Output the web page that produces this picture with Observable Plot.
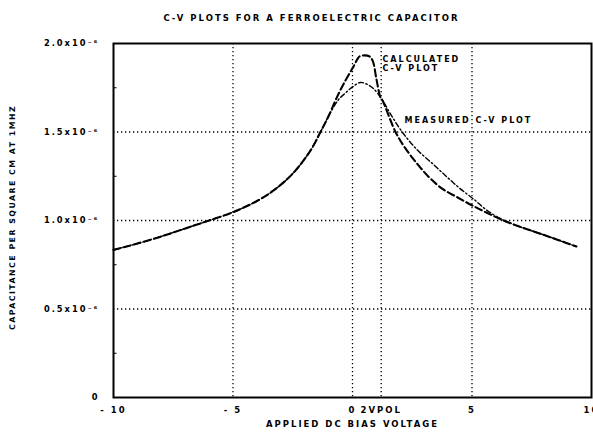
<!DOCTYPE html>
<html>
<head>
<meta charset="utf-8">
<script src="https://cdn.jsdelivr.net/npm/d3@7"></script>
<script src="https://cdn.jsdelivr.net/npm/@observablehq/plot@0.6"></script>
<style>
  html, body { margin: 0; padding: 0; background: #fff; }
  #chart svg { display: block; background: #fff; }
  #chart svg text { font-family: "DejaVu Sans", sans-serif; font-weight: bold; fill: #000; }
</style>
</head>
<body>
<div id="chart"></div>
<script>
// ---- data (capacitance in units of 1e-6 F/cm^2) ----
const calcV = [-10,-9,-8,-7,-6,-5,-4,-3.3,-2.5,-1.76,-1.34,-1,-0.64,-0.3,0,0.2,0.3,0.7,0.85,1.0,1.17,1.25,1.8,2.2,2.71,3.2,3.75,4.4,5.01,5.6,6.32,7.0,7.87,8.6,9.37];
const calcC = [0.834,0.87,0.91,0.955,1.0,1.047,1.11,1.17,1.265,1.395,1.50,1.59,1.70,1.79,1.86,1.91,1.928,1.928,1.90,1.80,1.695,1.68,1.50,1.41,1.32,1.245,1.18,1.13,1.085,1.045,1.0,0.965,0.925,0.89,0.853];

const measV = [-10,-9,-8,-7,-6,-5,-4,-3.3,-2.5,-1.76,-1.34,-1,-0.6,-0.3,0,0.33,0.6,0.88,1.25,1.6,2.08,2.7,3.4,3.96,4.5,5.08,5.6,6.2,7.0,7.87,8.6,9.37];
const measC = [0.834,0.87,0.91,0.955,1.0,1.047,1.11,1.17,1.265,1.395,1.50,1.59,1.68,1.72,1.755,1.78,1.77,1.745,1.68,1.60,1.50,1.40,1.315,1.245,1.18,1.12,1.06,1.01,0.965,0.925,0.89,0.853];

const xTicks = [-10,-5,0,1.2,5,10];
const xTickLabels = ["- 10","- 5","0","2VPOL","5","10"];
const yTicks = [0,0.5,1,1.5,2];
const yTickLabels = ["0","0.5x10⁻⁶","1.0x10⁻⁶","1.5x10⁻⁶","2.0x10⁻⁶"];
const xGrid = [-5,0,1.2,5];
const yGrid = [0.5,1,1.5];
const yMinor = [0.25,0.75,1.25,1.75];

const titleText = "C-V PLOTS FOR A FERROELECTRIC CAPACITOR";
const xLabel = "APPLIED DC BIAS VOLTAGE";
const yLabel = "CAPACITANCE PER SQUARE CM AT 1MHZ";

const notes = [
  {v: 1.255, c: 1.912, text: "CALCULATED"},
  {v: 1.255, c: 1.858, text: "C-V PLOT"},
  {v: 2.18, c: 1.565, text: "MEASURED C-V PLOT"}
];

const calc = calcV.map((v, i) => ({v, c: calcC[i]}));
const meas = measV.map((v, i) => ({v, c: measC[i]}));

const plot = Plot.plot({
  width: 593,
  height: 433,
  marginLeft: 113,
  marginRight: 2,
  marginTop: 43,
  marginBottom: 36,
  x: {type: "linear", domain: [-10, 10], axis: null},
  y: {type: "linear", domain: [0, 2], axis: null},
  marks: [
    Plot.ruleX(xGrid, {stroke: "#000", strokeWidth: 1.3, strokeDasharray: "1.3,2.7"}),
    Plot.ruleY(yGrid, {stroke: "#000", strokeWidth: 1.3, strokeDasharray: "1.3,2.7"}),
    Plot.ruleY(yMinor, {x1: -10, x2: -9.85, stroke: "#000", strokeWidth: 1}),
    Plot.frame({stroke: "#000", strokeWidth: 2}),
    Plot.line(meas, {x: "v", y: "c", stroke: "#000", strokeWidth: 1.4, strokeDasharray: "5,2.5,1.5,2.5", curve: "catmull-rom"}),
    Plot.line(calc, {x: "v", y: "c", stroke: "#000", strokeWidth: 2.1, strokeDasharray: "7,3.5", curve: "catmull-rom"}),
    Plot.axisY(yTicks, {anchor: "left", tickSize: 0, tickPadding: 14, fontSize: 8.3, tickFormat: (d) => yTickLabels[yTicks.indexOf(d)], label: null}),
    Plot.axisX(xTicks, {anchor: "bottom", tickSize: 0, tickPadding: 9, fontSize: 8.5, tickFormat: (d) => xTickLabels[xTicks.indexOf(d)], label: null}),
    Plot.text(notes, {x: "v", y: "c", text: "text", textAnchor: "start", fontSize: 8, fontWeight: "bold"}),
    Plot.text([titleText], {frameAnchor: "top", dy: -29, dx: -41, fontSize: 8.5, fontWeight: "bold"}),
    Plot.text([xLabel], {frameAnchor: "bottom", dy: 29, fontSize: 8.5, fontWeight: "bold"}),
    Plot.text([yLabel], {frameAnchor: "left", textAnchor: "middle", dx: -101, dy: -3, rotate: -90, fontSize: 7.8, fontWeight: "bold"})
  ]
});

d3.select(plot).selectAll("text").style("letter-spacing", "2px");
d3.select(plot).selectAll("text").filter(function () { return this.textContent === yLabel; }).style("letter-spacing", "1.5px");
document.getElementById("chart").appendChild(plot);
</script>
</body>
</html>
